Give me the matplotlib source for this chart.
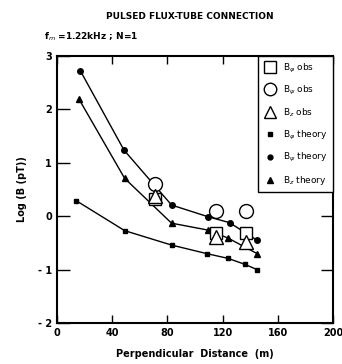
import matplotlib
matplotlib.use("Agg")
import matplotlib.pyplot as plt
from matplotlib.lines import Line2D

# theory curves
x_psi_th = [17, 48.5, 83, 109.5, 125, 145]
y_psi_th = [2.72, 1.24, 0.21, -0.01, -0.12, -0.45]
x_z_th = [16, 49, 83, 109.5, 124, 145]
y_z_th = [2.19, 0.71, -0.13, -0.26, -0.41, -0.70]
x_phi_th = [14, 49, 83, 108.5, 124, 136, 145]
y_phi_th = [0.29, -0.27, -0.54, -0.70, -0.79, -0.90, -1.0]

# observations
x_obs = [71, 115.5, 137]
y_phi_obs = [0.33, -0.31, -0.31]
y_psi_obs = [0.60, 0.10, 0.10]
y_z_obs = [0.38, -0.38, -0.48]

xticks = [0, 40, 80, 120, 160, 200]
yticks = [-2, -1, 0, 1, 2, 3]

plt.rcParams['font.family'] = ['DejaVu Sans']
fig = plt.figure(figsize=(3.42, 3.64), dpi=100)
ax = fig.add_axes([0.1667, 0.1126, 0.807, 0.7334])

ax.plot(x_psi_th, y_psi_th, '-o', color='black', lw=1.0, ms=4)
ax.plot(x_z_th, y_z_th, '-^', color='black', lw=1.0, ms=4)
ax.plot(x_phi_th, y_phi_th, '-s', color='black', lw=1.0, ms=3)

ax.plot(x_obs, y_phi_obs, 's', mfc='white', mec='black', mew=1.0, ms=9, ls='none')
ax.plot(x_obs, y_psi_obs, 'o', mfc='white', mec='black', mew=1.0, ms=10, ls='none')
ax.plot(x_obs, y_z_obs, '^', mfc='white', mec='black', mew=1.0, ms=10, ls='none')

ax.set_xlim(0, 200)
ax.set_ylim(-2, 3)
ax.set_xticks(xticks)
ax.set_yticks(yticks)
ax.set_xticklabels([str(v) for v in xticks], fontsize=7, fontweight='bold')
ax.set_yticklabels([str(v) if v >= 0 else '- ' + str(-v) for v in yticks], fontsize=7, fontweight='bold')
ax.tick_params(direction='in', top=True, right=True, width=1.0)
ax.tick_params(axis='x', length=6)
ax.tick_params(axis='y', length=9)
for s in ax.spines.values():
    s.set_linewidth(1.5)

handles = [
    Line2D([], [], marker='s', mfc='white', mec='black', ms=8, ls='none'),
    Line2D([], [], marker='o', mfc='white', mec='black', ms=9, ls='none'),
    Line2D([], [], marker='^', mfc='white', mec='black', ms=9, ls='none'),
    Line2D([], [], marker='s', color='black', ms=3, ls='none'),
    Line2D([], [], marker='o', color='black', ms=3.5, ls='none'),
    Line2D([], [], marker='^', color='black', ms=4, ls='none'),
]
labels = [r'B$_\varphi$ obs', r'B$_\psi$ obs', r'B$_z$ obs',
          r'B$_\varphi$ theory', r'B$_\psi$ theory', r'B$_z$ theory']
leg = ax.legend(handles, labels, loc='upper right', borderaxespad=0, fancybox=False,
                edgecolor='black', fontsize=6.5, handletextpad=0.6, labelspacing=1.05,
                borderpad=0.6, handlelength=1.6, framealpha=1)
leg.get_frame().set_linewidth(1.0)

fig.text(0.555, 0.955, 'PULSED FLUX-TUBE CONNECTION', ha='center', va='center', fontsize=6.5, fontweight='bold')
fig.text(0.13, 0.898, r'f$_m$ =1.22kHz ; N=1', ha='left', va='center', fontsize=6.5, fontweight='bold')
ax.set_xlabel('Perpendicular  Distance  (m)', fontsize=7, fontweight='bold', labelpad=8)
ax.set_ylabel('Log (B (pT))', fontsize=7, fontweight='bold', labelpad=8)

fig.savefig('out.png', dpi=100)
